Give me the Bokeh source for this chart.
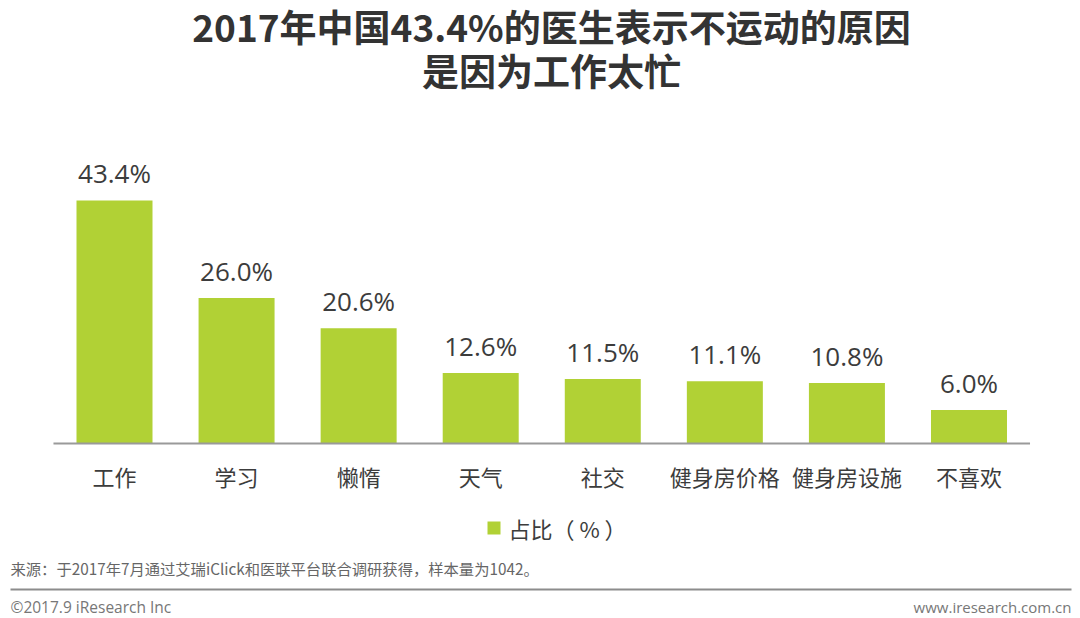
from bokeh.plotting import figure
from bokeh.models import ColumnDataSource, Range1d
from bokeh.core.properties import value
from bokeh.embed import file_html
from bokeh.resources import INLINE

categories = ["工作", "学习", "懒惰", "天气", "社交", "健身房价格", "健身房设施", "不喜欢"]
shares = [43.4, 26.0, 20.6, 12.6, 11.5, 11.1, 10.8, 6.0]
value_labels = ["43.4%", "26.0%", "20.6%", "12.6%", "11.5%", "11.1%", "10.8%", "6.0%"]
title_lines = ["2017年中国43.4%的医生表示不运动的原因", "是因为工作太忙"]
legend_label = "占比（ % ）"
source_note = "来源：于2017年7月通过艾瑞iClick和医联平台联合调研获得，样本量为1042。"
footer_left = "©2017.9 iResearch Inc"
footer_right = "www.iresearch.com.cn"

W, H = 1080, 618
X0, STEP = 114.0, 122.07      # pixel centre of first bar, pixels per category
BASE, PXU = 443.0, 5.6        # baseline pixel (from top), pixels per percent


def dx(px):
    return (px - X0) / STEP


def dy(py):
    return (BASE - py) / PXU


CJK = "Noto Sans CJK SC"
GREEN = "#b1d135"
DARK = "#3c3c3c"

p = figure(width=W, height=H, output_backend="svg", toolbar_location=None,
           x_range=Range1d(dx(0), dx(W)), y_range=Range1d(dy(H), dy(0)),
           x_axis_location=None, y_axis_location=None,
           min_border=0, min_border_left=0, min_border_right=0,
           min_border_top=0, min_border_bottom=0)
p.outline_line_color = None
p.grid.visible = False
p.background_fill_color = "white"
p.border_fill_color = "white"

idx = list(range(len(categories)))
src = ColumnDataSource(dict(x=idx, top=shares, cat=categories, lab=value_labels))

p.vbar(x="x", top="top", bottom=0, width=76 / STEP, source=src,
       fill_color=GREEN, line_color=None)

# baseline
p.segment(x0=[-0.5], y0=[0], x1=[len(categories) - 0.5], y1=[0],
          line_color="#9a9a9a", line_width=2)

# value labels
p.text(x="x", y="top", text="lab", source=src, y_offset=-9,
       text_align="center", text_baseline="bottom",
       text_font=value("Open Sans"), text_font_size="26px", text_color=DARK)

# category labels
p.text(x="x", y=dy(475), text="cat", source=src,
       text_align="center", text_baseline="middle",
       text_font=value(CJK), text_font_size="22px", text_color=DARK)

# titles
p.text(x=[dx(551)], y=[dy(25)], text=[title_lines[0]],
       text_align="center", text_baseline="middle",
       text_font=value(CJK), text_font_style="bold",
       text_font_size="37px", text_color="#333333")
p.text(x=[dx(551)], y=[dy(69)], text=[title_lines[1]],
       text_align="center", text_baseline="middle",
       text_font=value(CJK), text_font_style="bold",
       text_font_size="37px", text_color="#333333")

# legend
p.rect(x=[dx(493.5)], y=[dy(527.5)], width=13 / STEP, height=13 / PXU,
       fill_color=GREEN, line_color=None)
p.text(x=[dx(508)], y=[dy(527)], text=[legend_label],
       text_align="left", text_baseline="middle",
       text_font=value(CJK), text_font_size="22px", text_color=DARK)

# source note
p.text(x=[dx(10)], y=[dy(567)], text=[source_note],
       text_align="left", text_baseline="middle",
       text_font=value(CJK), text_font_size="15.3px", text_color="#666666")

# separator line
p.segment(x0=[dx(10)], y0=[dy(589)], x1=[dx(1071)], y1=[dy(589)],
          line_color="#8c8c8c", line_width=2)

# footer
p.text(x=[dx(10)], y=[dy(606)], text=[footer_left],
       text_align="left", text_baseline="middle",
       text_font=value("Open Sans"), text_font_size="15.5px", text_color="#777777")
p.text(x=[dx(1071)], y=[dy(606)], text=[footer_right],
       text_align="right", text_baseline="middle",
       text_font=value("Open Sans"), text_font_size="15px", text_color="#777777")

open("out.html", "w").write(file_html(p, INLINE))
